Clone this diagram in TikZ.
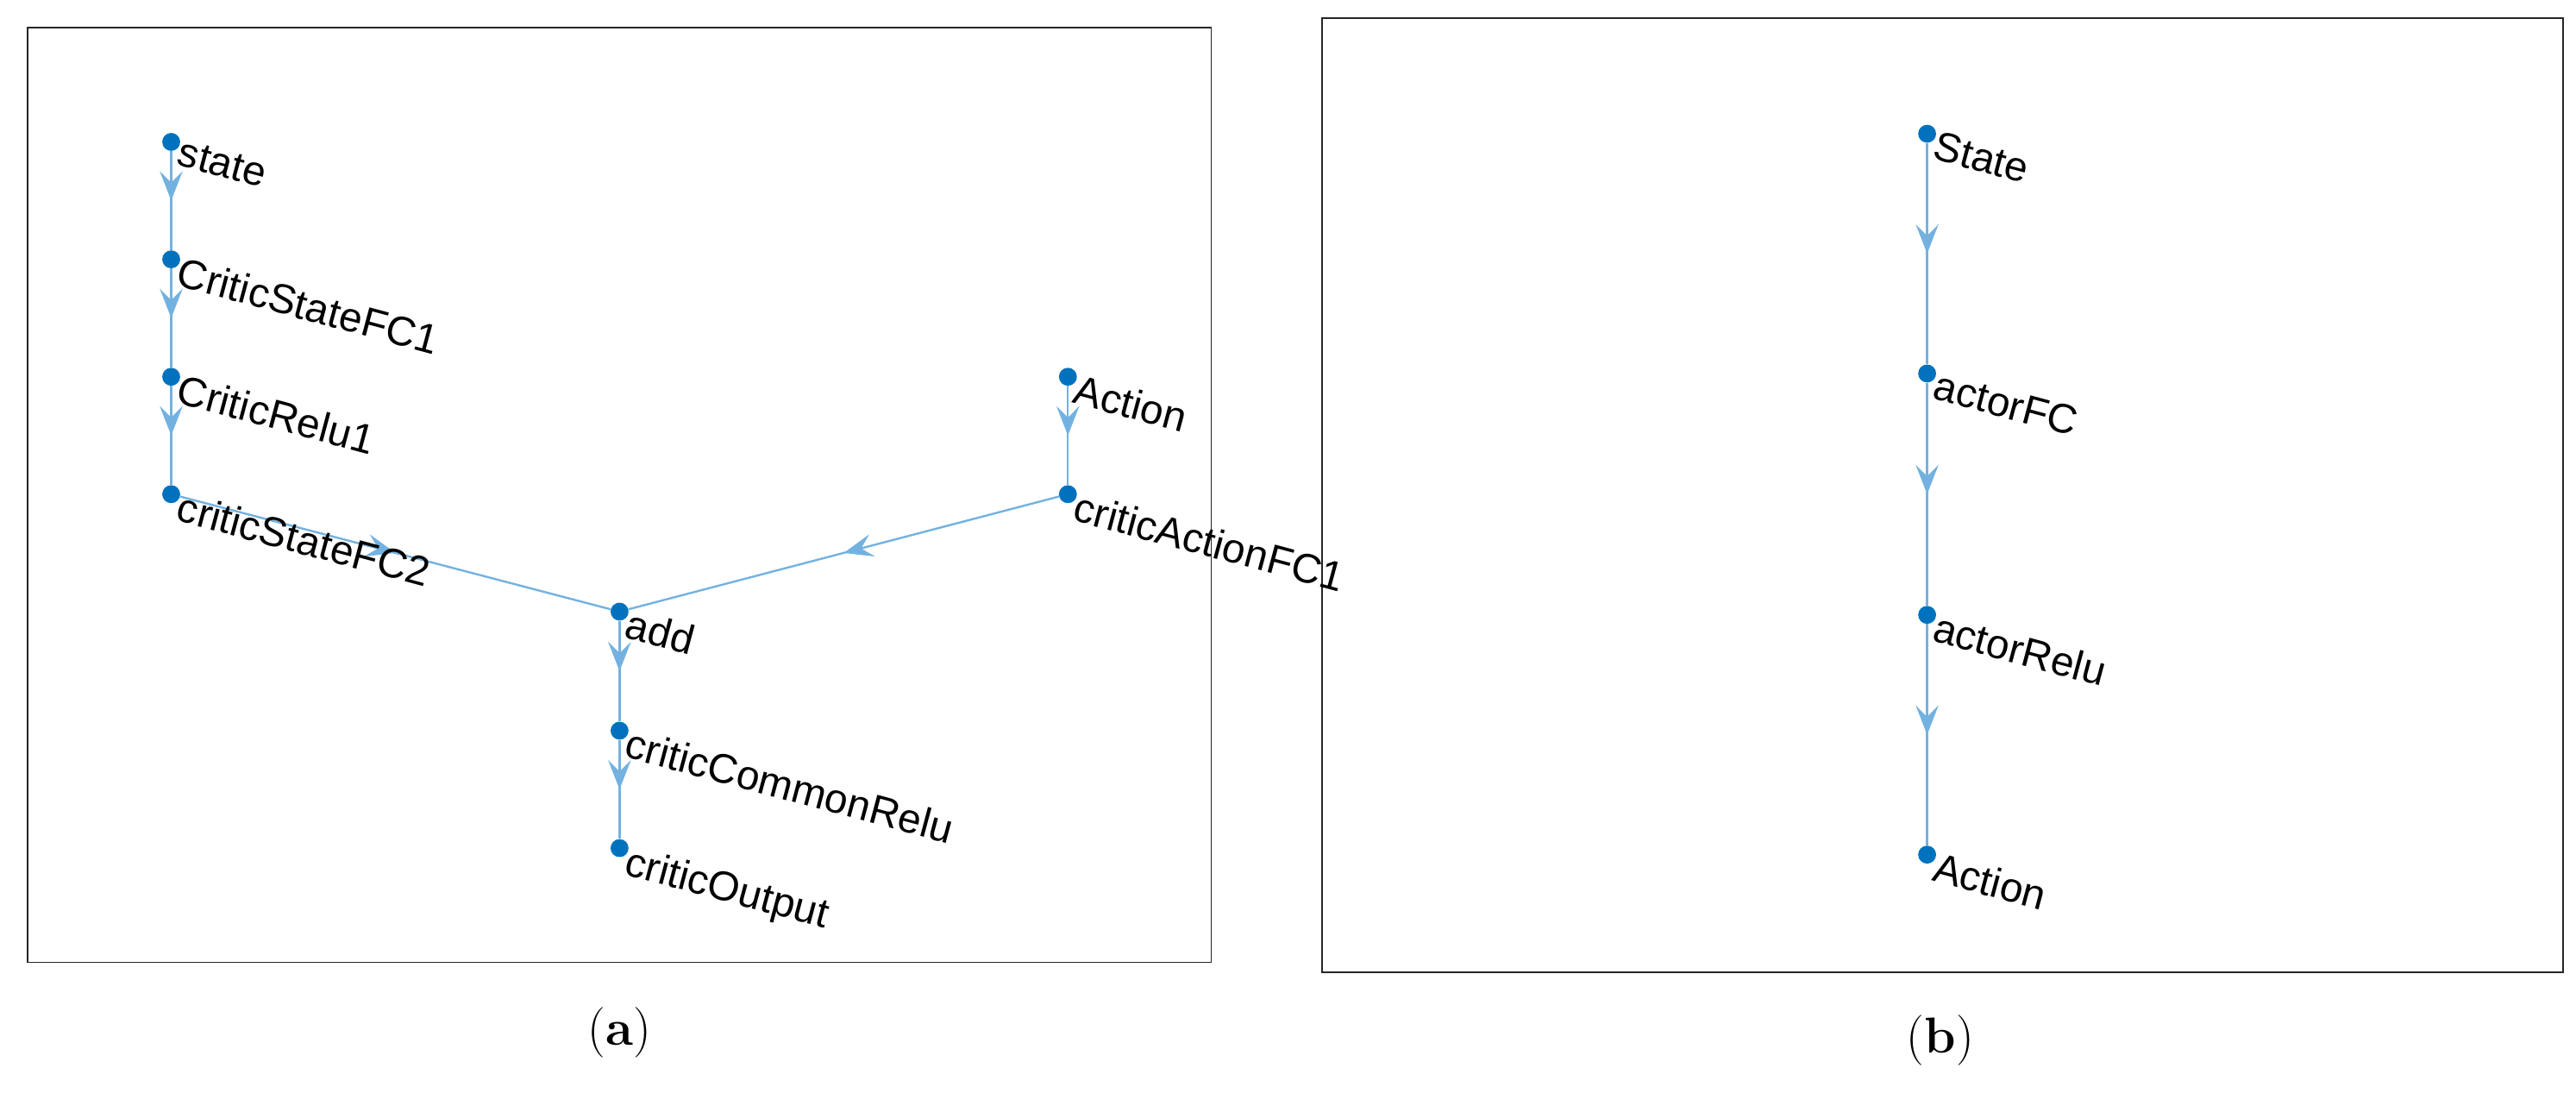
\documentclass[tikz,border=0pt]{standalone}
\usepackage{fontspec}
\setmainfont{Liberation Sans}
\newfontfamily\capfont{Latin Modern Roman}
\usetikzlibrary{decorations.markings,arrows.meta}
\definecolor{dotc}{rgb}{0,0.447,0.741}
\definecolor{edgec}{rgb}{0.45,0.70,0.88}
\begin{document}
\begin{tikzpicture}[x=0.05cm,y=-0.05cm,
  v/.style={circle,fill=dotc,inner sep=0pt,minimum size=0.55cm},
  lab/.style={anchor=north west,rotate=-15,inner sep=0pt,font=\fontsize{36}{40}\selectfont},
  e/.style={draw=edgec,line width=1.8pt,postaction={decorate},
    decoration={markings,mark=at position 0.5 with {\arrow{Stealth[length=0.9cm,width=0.7cm,inset=0.35cm,fill=edgec]}}}},
  frame/.style={draw=black!85,line width=1.2pt},
  captxt/.style={font=\capfont\fontsize{44}{48}\selectfont}]
\useasboundingbox (0,0) rectangle (1580,678);
\draw[frame] (17,17) rectangle (743,590);
\draw[frame] (811,11) rectangle (1572,596);
% panel a
\node[v] (s) at (105,87) {};
\node[v] (c1) at (105,159) {};
\node[v] (r1) at (105,231) {};
\node[v] (c2) at (105,303) {};
\node[v] (ad) at (380,375) {};
\node[v] (cr) at (380,448) {};
\node[v] (co) at (380,520) {};
\node[v] (ac) at (655,231) {};
\node[v] (af) at (655,303) {};
\draw[e] (s) -- (c1);
\draw[e] (c1) -- (r1);
\draw[e] (r1) -- (c2);
\draw[e] (c2) -- (ad);
\draw[e] (ac) -- (af);
\draw[e] (af) -- (ad);
\draw[e] (ad) -- (cr);
\draw[e] (cr) -- (co);
\foreach \n/\t in {s/state,c1/CriticStateFC1,r1/CriticRelu1,c2/criticStateFC2,ad/add,cr/criticCommonRelu,co/criticOutput,ac/Action,af/criticActionFC1}
  \node[lab] (l\n) at ([xshift=0.35cm,yshift=0.1cm]\n.center) {\t};
% panel b
\node[v] (bs) at (1182,82) {};
\node[v] (bf) at (1182,229) {};
\node[v] (br) at (1182,377) {};
\node[v] (ba) at (1182,524) {};
\draw[e] (bs) -- (bf);
\draw[e] (bf) -- (br);
\draw[e] (br) -- (ba);
\foreach \n/\t in {bs/State,bf/actorFC,br/actorRelu,ba/Action}
  \node[lab] (l\n) at ([xshift=0.35cm,yshift=0.1cm]\n.center) {\t};
\node[captxt] (capa) at (380,633) {(\textbf{a})};
\node[captxt] (capb) at (1190,638) {(\textbf{b})};
\end{tikzpicture}
\end{document}
